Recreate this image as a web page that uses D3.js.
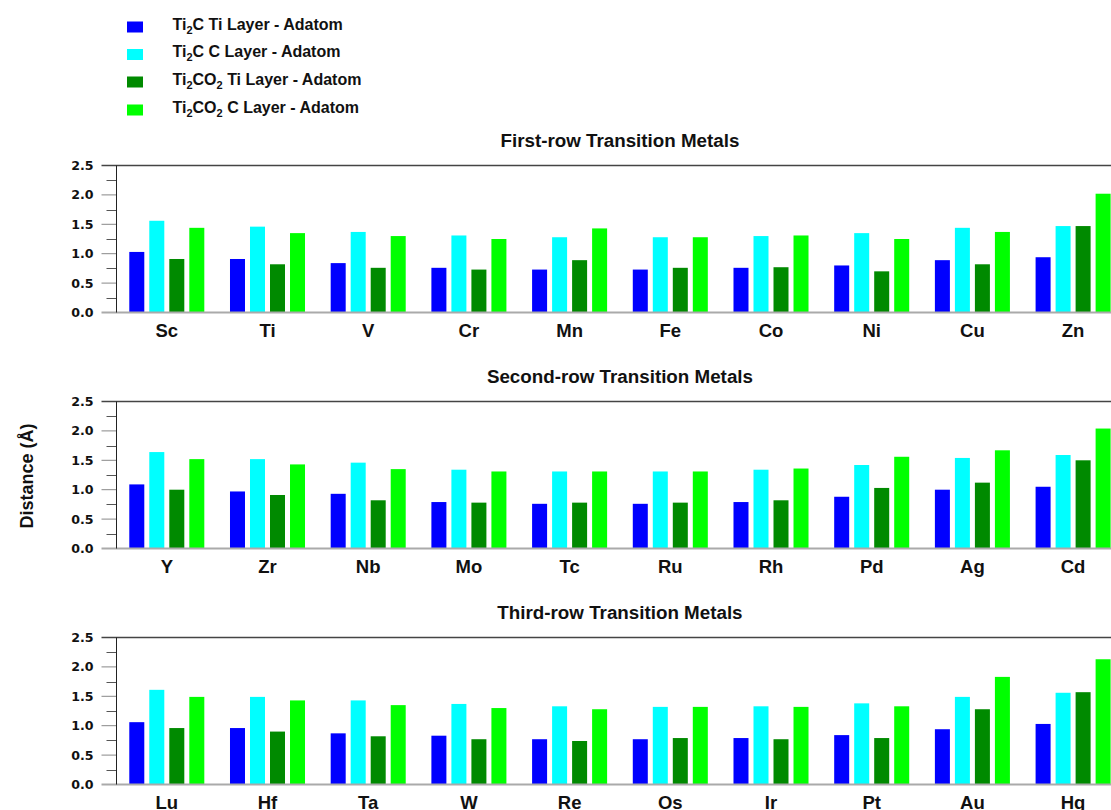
<!DOCTYPE html>
<html>
<head>
<meta charset="utf-8">
<script src="https://cdn.jsdelivr.net/npm/d3@7"></script>
<style>
  html, body { margin: 0; padding: 0; background: #fff; }
  svg { display: block; }
  text { font-family: "Liberation Sans", Arial, Helvetica, sans-serif; font-weight: bold; fill: #111; }
  text.ytick { font-family: "DejaVu Sans", sans-serif; }
</style>
</head>
<body>
<svg id="chart" width="1111" height="810"></svg>
<script>
// Adatom height above each layer (Å), per transition-metal row
const row1Metals = ["Sc", "Ti", "V", "Cr", "Mn", "Fe", "Co", "Ni", "Cu", "Zn"];
const row1Ti2CTi   = [1.03, 0.91, 0.84, 0.76, 0.73, 0.73, 0.76, 0.80, 0.89, 0.94];
const row1Ti2CC    = [1.56, 1.46, 1.37, 1.31, 1.28, 1.28, 1.30, 1.35, 1.44, 1.47];
const row1Ti2CO2Ti = [0.91, 0.82, 0.76, 0.73, 0.89, 0.76, 0.77, 0.70, 0.82, 1.47];
const row1Ti2CO2C  = [1.44, 1.35, 1.30, 1.25, 1.43, 1.28, 1.31, 1.25, 1.37, 2.02];

const row2Metals = ["Y", "Zr", "Nb", "Mo", "Tc", "Ru", "Rh", "Pd", "Ag", "Cd"];
const row2Ti2CTi   = [1.09, 0.97, 0.93, 0.79, 0.76, 0.76, 0.79, 0.88, 1.00, 1.05];
const row2Ti2CC    = [1.64, 1.52, 1.46, 1.34, 1.31, 1.31, 1.34, 1.42, 1.54, 1.59];
const row2Ti2CO2Ti = [1.00, 0.91, 0.82, 0.78, 0.78, 0.78, 0.82, 1.03, 1.12, 1.50];
const row2Ti2CO2C  = [1.52, 1.43, 1.35, 1.31, 1.31, 1.31, 1.36, 1.56, 1.67, 2.04];

const row3Metals = ["Lu", "Hf", "Ta", "W", "Re", "Os", "Ir", "Pt", "Au", "Hg"];
const row3Ti2CTi   = [1.06, 0.96, 0.87, 0.83, 0.77, 0.77, 0.79, 0.84, 0.94, 1.03];
const row3Ti2CC    = [1.61, 1.49, 1.43, 1.37, 1.33, 1.32, 1.33, 1.38, 1.49, 1.56];
const row3Ti2CO2Ti = [0.96, 0.90, 0.82, 0.77, 0.74, 0.79, 0.77, 0.79, 1.28, 1.57];
const row3Ti2CO2C  = [1.49, 1.43, 1.35, 1.30, 1.28, 1.32, 1.32, 1.33, 1.83, 2.13];

const panelTitles = ["First-row Transition Metals", "Second-row Transition Metals", "Third-row Transition Metals"];
const seriesKeys = ["Ti2C_Ti", "Ti2C_C", "Ti2CO2_Ti", "Ti2CO2_C"];
const seriesColors = ["#0000ff", "#00ffff", "#008a00", "#00ff00"];
const yTickValues = [0, 0.5, 1.0, 1.5, 2.0, 2.5];
const yAxisTitle = "Distance (Å)";

// legend entries: [formula base, subscript, formula rest, subscript, layer text]
const legendParts = [
  ["Ti", "2", "C", "", " Ti Layer - Adatom"],
  ["Ti", "2", "C", "", " C Layer - Adatom"],
  ["Ti", "2", "CO", "2", " Ti Layer - Adatom"],
  ["Ti", "2", "CO", "2", " C Layer - Adatom"]
];

const panels = [
  { metals: row1Metals, series: [row1Ti2CTi, row1Ti2CC, row1Ti2CO2Ti, row1Ti2CO2C] },
  { metals: row2Metals, series: [row2Ti2CTi, row2Ti2CC, row2Ti2CO2Ti, row2Ti2CO2C] },
  { metals: row3Metals, series: [row3Ti2CTi, row3Ti2CC, row3Ti2CO2Ti, row3Ti2CO2C] }
];

const svg = d3.select("#chart");

const axisX = 116.5;          // left axis position
const plotRight = 1123.4;     // plot extends slightly beyond the page edge
const lineStart = 101.5;      // where the top/bottom rules begin
const panelTops = [165.5, 401.5, 637.5];
const panelHeight = 147;

const color = d3.scaleOrdinal().domain(seriesKeys).range(seriesColors);

panels.forEach((p, pi) => {
  const top = panelTops[pi];
  const bottom = top + panelHeight;
  const g = svg.append("g");

  const x0 = d3.scaleBand()
    .domain(p.metals)
    .range([axisX, plotRight])
    .paddingInner(0.255)
    .paddingOuter(0.127);
  const x1 = d3.scaleBand()
    .domain(seriesKeys)
    .range([0, x0.bandwidth()])
    .paddingInner(0.25)
    .paddingOuter(0);
  const y = d3.scaleLinear().domain([0, 2.5]).range([bottom, top]);

  // title
  g.append("text")
    .attr("x", (axisX + plotRight) / 2)
    .attr("y", top - 19)
    .attr("text-anchor", "middle")
    .style("font-size", "18.8px")
    .text(panelTitles[pi]);

  // bars
  const groups = g.selectAll("g.grp")
    .data(p.metals.map((m, i) => ({ metal: m, values: seriesKeys.map((k, si) => ({ key: k, v: p.series[si][i] })) })))
    .join("g")
    .attr("class", "grp")
    .attr("transform", d => `translate(${x0(d.metal)},0)`);
  groups.selectAll("rect")
    .data(d => d.values)
    .join("rect")
    .attr("x", d => x1(d.key))
    .attr("width", x1.bandwidth())
    .attr("y", d => y(d.v))
    .attr("height", d => y(0) - y(d.v))
    .attr("fill", d => color(d.key));

  // minor and major ticks
  const minor = d3.range(0.25, 2.5, 0.5);
  g.selectAll("line.minor").data(minor).join("line")
    .attr("x1", axisX - 10).attr("x2", axisX)
    .attr("y1", d => Math.round(y(d)) + 0.5).attr("y2", d => Math.round(y(d)) + 0.5)
    .attr("stroke", "#555").attr("stroke-width", 1);
  g.selectAll("line.major").data(yTickValues.filter(v => v > 0 && v < 2.5)).join("line")
    .attr("x1", axisX - 15).attr("x2", axisX)
    .attr("y1", d => y(d)).attr("y2", d => y(d))
    .attr("stroke", "#888").attr("stroke-width", 1);

  // y tick labels
  g.selectAll("text.ytick").data(yTickValues).join("text")
    .attr("class", "ytick")
    .attr("x", 93.5)
    .attr("y", d => y(d))
    .attr("dy", "0.36em")
    .attr("text-anchor", "end")
    .style("font-size", "12.6px")
    .text(d => d3.format(".1f")(d));

  // top rule and baseline
  g.append("line")
    .attr("x1", lineStart).attr("x2", 1111)
    .attr("y1", y(2.5)).attr("y2", y(2.5))
    .attr("stroke", "#444").attr("stroke-width", 1.5);
  g.append("line")
    .attr("x1", lineStart).attr("x2", 1111)
    .attr("y1", y(0)).attr("y2", y(0))
    .attr("stroke", "#aaa").attr("stroke-width", 2);
  // left axis line
  g.append("line")
    .attr("x1", axisX).attr("x2", axisX)
    .attr("y1", y(2.5)).attr("y2", y(0))
    .attr("stroke", "#222").attr("stroke-width", 1);

  // category labels
  g.selectAll("text.xlab").data(p.metals).join("text")
    .attr("x", d => x0(d) + x0.bandwidth() / 2)
    .attr("y", bottom + 24)
    .attr("text-anchor", "middle")
    .style("font-size", "18.5px")
    .text(d => d);
});

// y axis title
svg.append("text")
  .attr("transform", `translate(33,476) rotate(-90)`)
  .attr("text-anchor", "middle")
  .style("font-size", "18px")
  .text(yAxisTitle);

// legend
const legendY = [27, 54.5, 82, 110];
const legend = svg.append("g");
legendParts.forEach((parts, i) => {
  const cy = legendY[i];
  legend.append("rect")
    .attr("x", 127).attr("y", cy - 5.5)
    .attr("width", 16).attr("height", 11)
    .attr("fill", seriesColors[i]);
  const t = legend.append("text")
    .attr("x", 172.5).attr("y", cy + 2.5)
    .style("font-size", "16px");
  t.append("tspan").text(parts[0]);
  t.append("tspan").attr("dy", 4).style("font-size", "11px").text(parts[1]);
  t.append("tspan").attr("dy", -4).text(parts[2]);
  if (parts[3]) {
    t.append("tspan").attr("dy", 4).style("font-size", "11px").text(parts[3]);
    t.append("tspan").attr("dy", -4).text(parts[4]);
  } else {
    t.append("tspan").text(parts[4]);
  }
});
</script>
</body>
</html>
